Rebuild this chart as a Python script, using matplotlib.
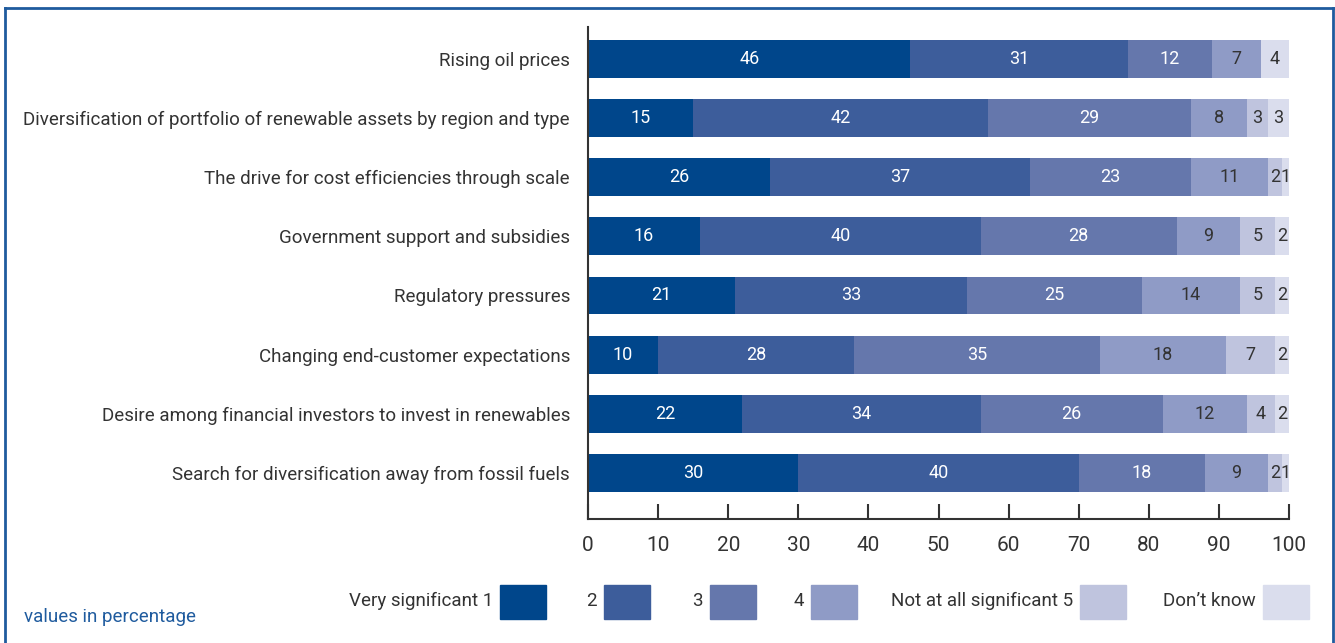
import matplotlib
matplotlib.use('Agg')
import matplotlib.pyplot as plt
from matplotlib.patches import Rectangle
from matplotlib.lines import Line2D
import numpy as np

plt.rcParams['font.family'] = ['Roboto', 'DejaVu Sans']

categories = [
    "Rising oil prices",
    "Diversification of portfolio of renewable assets by region and type",
    "The drive for cost efficiencies through scale",
    "Government support and subsidies",
    "Regulatory pressures",
    "Changing end-customer expectations",
    "Desire among financial investors to invest in renewables",
    "Search for diversification away from fossil fuels",
]
very_sig_1 = [46, 15, 26, 16, 21, 10, 22, 30]
level_2 = [31, 42, 37, 40, 33, 28, 34, 40]
level_3 = [12, 29, 23, 28, 25, 35, 26, 18]
level_4 = [7, 8, 11, 9, 14, 18, 12, 9]
not_sig_5 = [0, 3, 2, 5, 5, 7, 4, 2]
dont_know = [4, 3, 1, 2, 2, 2, 2, 1]

series = [very_sig_1, level_2, level_3, level_4, not_sig_5, dont_know]
legend_labels = ["Very significant 1", "2", "3", "4", "Not at all significant 5", "Don\u2019t know"]
colors = ['#00468b', '#3d5d9b', '#6577ac', '#8f9bc6', '#bfc4de', '#dadded']
text_colors = ['white', 'white', 'white', '#333333', '#333333', '#333333']
BLUE = '#1f5b9e'
DARK = '#333333'
FS = 13.5

W, H = 1335, 643
fig = plt.figure(figsize=(W / 100, H / 100), dpi=100)
ax = fig.add_axes([588 / W, 1 - 519 / H, (1289 - 588) / W, (519 - 27) / H])

y = np.arange(len(categories))
left = np.zeros(len(categories))
for vals, c, tc in zip(series, colors, text_colors):
    vals = np.array(vals, dtype=float)
    bars = ax.barh(y, vals, left=left, height=0.64, color=c, edgecolor='none')
    for bar, v in zip(bars, vals):
        if v > 0:
            ax.text(bar.get_x() + bar.get_width() / 2, bar.get_y() + bar.get_height() / 2,
                    f'{int(v)}', ha='center', va='center', fontsize=13, color=tc)
    left += vals

ax.set_xlim(0, 100)
ax.set_ylim(7.78, -0.54)
ax.set_yticks(y)
ax.set_yticklabels(categories, fontsize=FS, color=DARK)
ax.tick_params(axis='y', length=0, pad=13)
ax.set_xticks(np.arange(0, 101, 10))
ax.tick_params(axis='x', direction='in', length=11, width=1.5, color=DARK,
               labelsize=15, labelcolor=DARK, pad=12)
for s in ['top', 'right']:
    ax.spines[s].set_visible(False)
for s in ['left', 'bottom']:
    ax.spines[s].set_color(DARK)
    ax.spines[s].set_linewidth(1.5)

# legend drawn by hand along the bottom
box_left = [500, 604, 710, 811, 1080, 1263]
box_w, box_h, box_cy = 46, 34, 602
for x0, lab, c in zip(box_left, legend_labels, colors):
    fig.patches.append(Rectangle((x0 / W, 1 - (box_cy + box_h / 2) / H), box_w / W, box_h / H,
                                 transform=fig.transFigure, color=c, figure=fig))
    fig.text((x0 - 7) / W, 1 - (box_cy - 1) / H, lab, ha='right', va='center',
             fontsize=FS, color=DARK)

fig.text(24 / W, 1 - 617 / H, "values in percentage", ha='left', va='center',
         fontsize=FS, color=BLUE)

# blue frame
for xs, ys in [([5, 1333], [8, 8]), ([5, 5], [8, H + 5]), ([1333, 1333], [8, H + 5])]:
    fig.lines.append(Line2D([v / W for v in xs], [1 - v / H for v in ys],
                            transform=fig.transFigure, color=BLUE, linewidth=2, figure=fig))

fig.savefig('out.png', dpi=100, facecolor='white')
